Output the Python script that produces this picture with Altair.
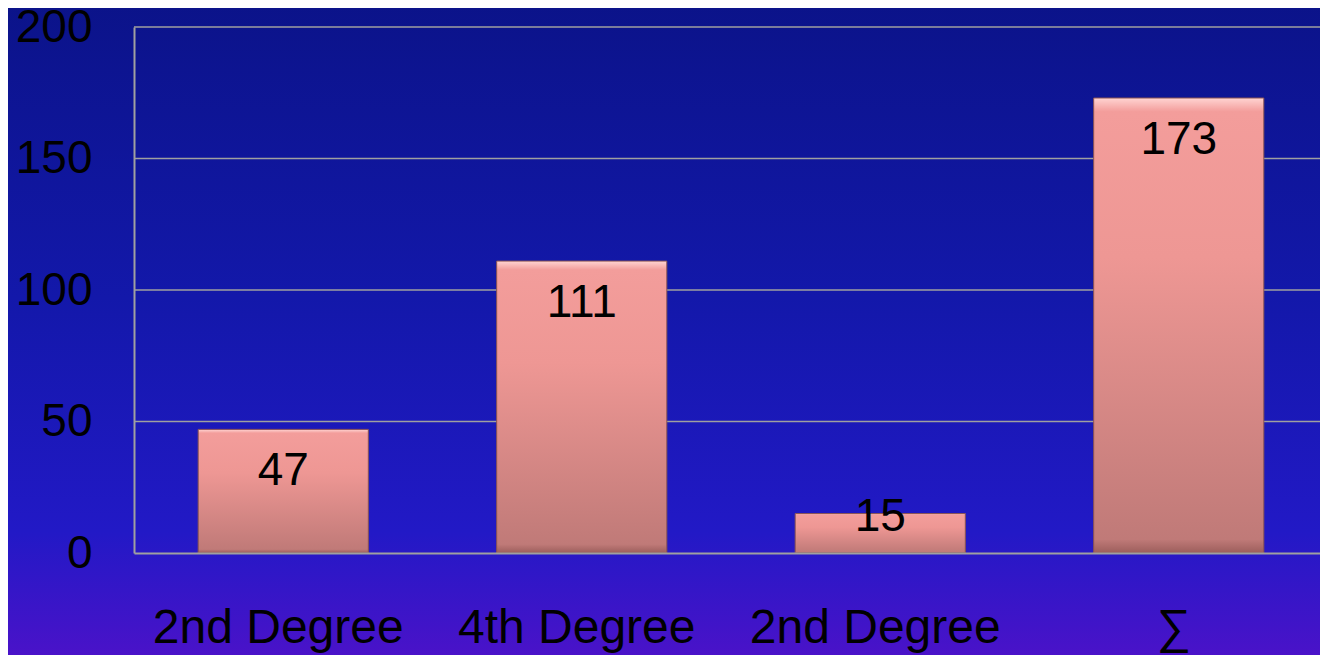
import json
import altair as alt
import pandas as pd

labels = ["2nd Degree", "4th Degree", "2nd Degree", "∑"]
values = [47, 111, 15, 173]
keys = [0, 1, 2, 3]
y_ticks = [0, 50, 100, 150, 200]

df = pd.DataFrame({"key": keys, "value": values})
grid_df = pd.DataFrame({"g": y_ticks[1:]})
bg = pd.DataFrame({"k": [0]})

W, H = 1186, 526
XR = 1194
PL, PT, PR, PB = 126, 19, 0, 102
FONT = "Liberation Sans"

label_expr = json.dumps(labels, ensure_ascii=False) + "[datum.value]"

bg_grad = alt.LinearGradient(
    gradient="linear", x1=0, y1=0, x2=0, y2=1,
    stops=[
        alt.GradientStop(offset=0, color="#0b1389"),
        alt.GradientStop(offset=0.45, color="#1318aa"),
        alt.GradientStop(offset=0.8, color="#2219c6"),
        alt.GradientStop(offset=1, color="#4d12c9"),
    ],
)
bar_grad = alt.LinearGradient(
    gradient="linear", x1=0, y1=0, x2=0, y2=1,
    stops=[
        alt.GradientStop(offset=0, color="#ffd4d2"),
        alt.GradientStop(offset=0.03, color="#f39d9b"),
        alt.GradientStop(offset=0.35, color="#ee9794"),
        alt.GradientStop(offset=0.97, color="#c07a78"),
        alt.GradientStop(offset=1, color="#9c5e5c"),
    ],
)

background = alt.Chart(bg).mark_rect(color=bg_grad).encode(
    x=alt.value(-PL - 10), x2=alt.value(W + PR + 20),
    y=alt.value(-PT - 10), y2=alt.value(H + PB + 10),
)

yscale = alt.Scale(domain=[0, 200])
yaxis = alt.Axis(
    title=None, values=y_ticks, labelFont=FONT,
    labelFontSize=46, labelColor="#000000", labelPadding=42,
    ticks=False, domain=True, domainColor="#a0a0a0", domainWidth=2,
    grid=False, zindex=1,
)

grid = alt.Chart(grid_df).mark_rule(color="#a0a0a0", strokeWidth=1.5).encode(
    y=alt.Y("g:Q", scale=yscale, axis=yaxis),
    x=alt.value(0), x2=alt.value(XR),
)

xscale = alt.Scale(paddingInner=0.43, paddingOuter=0.215, range=[0, XR])
xenc = alt.X(
    "key:O",
    scale=xscale,
    axis=alt.Axis(
        title=None, labelExpr=label_expr, labelAngle=0, labelFont=FONT,
        labelFontSize=48, labelColor="#000000", labelPadding=51,
        labelOffset=-5, labelLimit=0, ticks=False, domain=True,
        domainColor="#a0a0a0", domainWidth=2, zindex=1,
    ),
)

bars = alt.Chart(df).mark_bar(
    color=bar_grad, stroke="#8a5352", strokeWidth=1
).encode(
    x=xenc,
    y=alt.Y("value:Q", scale=yscale, axis=yaxis),
)

text = alt.Chart(df).transform_calculate(
    ly="max(datum.value - 16, 13.7)"
).mark_text(
    font=FONT, fontSize=46, color="#000000", baseline="middle", align="center"
).encode(
    x=alt.X("key:O", scale=xscale),
    y=alt.Y("ly:Q", scale=yscale),
    text=alt.Text("value:Q"),
)

chart = alt.layer(background, grid, bars, text).properties(
    width=W, height=H,
    padding={"left": PL, "top": PT, "right": PR, "bottom": PB},
    autosize=alt.AutoSizeParams(type="none"),
).configure_view(stroke=None).configure(background="#0b1389")

chart.save("out.html", embed_options={"renderer": "svg", "actions": False})
